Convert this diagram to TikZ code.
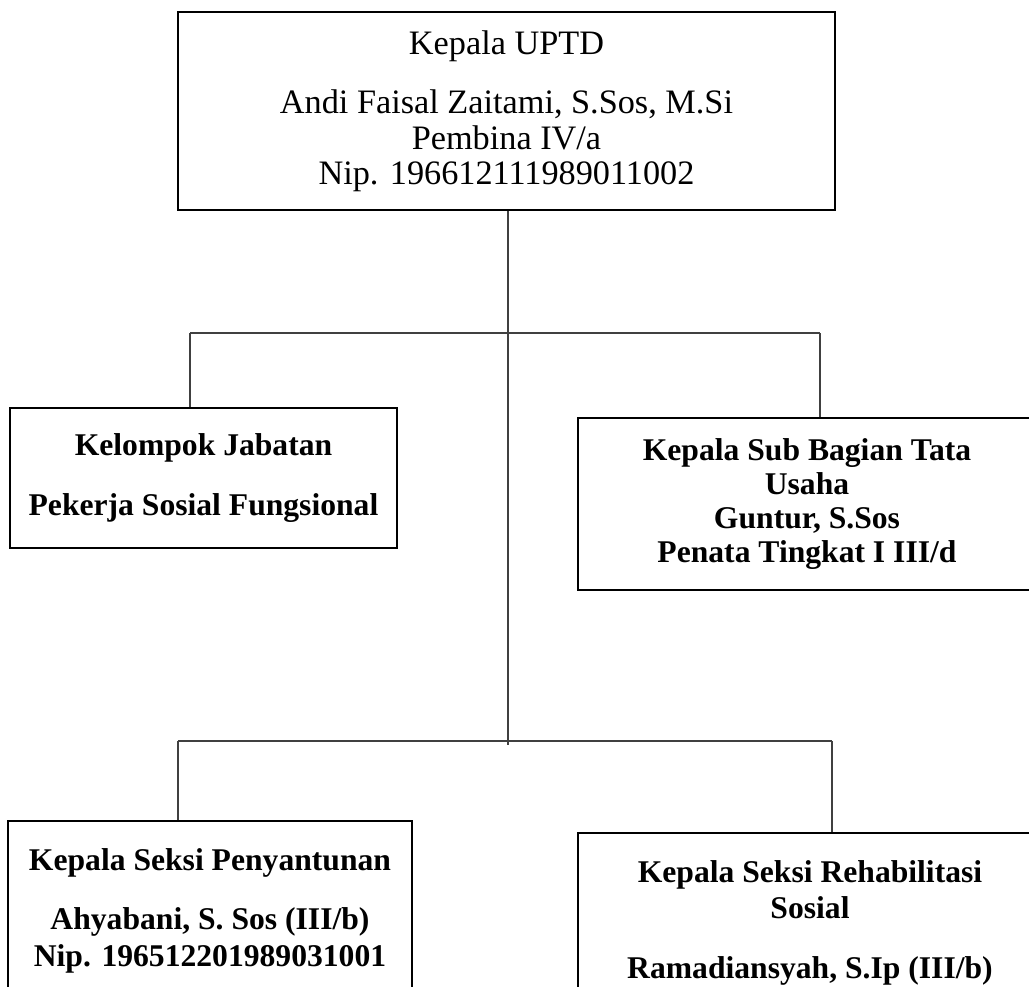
\documentclass[tikz,border=0pt]{standalone}
\usepackage{fontspec}
\setmainfont{Liberation Serif}
\usetikzlibrary{positioning}
\tikzstyle{jabatan}=[draw,line width=0.9pt,align=center,inner sep=0pt,font=\bfseries\fontsize{18}{21}\selectfont]
\tikzstyle{kepala box}=[jabatan,font=\fontsize{19.5}{20}\selectfont]
\tikzstyle{garis}=[draw,line width=0.7pt,black!75]

\begin{document}
\begin{tikzpicture}[x=0.02cm,y=-0.02cm]
    \useasboundingbox (0,0) rectangle (1029,987);
    % First we draw the boxes
    \node[kepala box,minimum width=13.14cm,minimum height=3.96cm] (kepala) at (506.5,111)
        {Kepala UPTD\\[14pt]Andi Faisal Zaitami, S.Sos, M.Si\\Pembina IV/a\\Nip. 196612111989011002};
    \node[jabatan,minimum width=7.74cm,minimum height=2.8cm] (kjf) at (203.5,478)
        {Kelompok Jabatan\\[13pt]Pekerja Sosial Fungsional};
    \node[jabatan,minimum width=9.16cm,minimum height=3.44cm,font=\bfseries\fontsize{18}{19.5}\selectfont] (kasubag) at (807,504)
        {Kepala Sub Bagian Tata\\Usaha\\Guntur, S.Sos\\Penata Tingkat I III/d};
    \node[jabatan,minimum width=8.08cm,minimum height=3.6cm,anchor=north] (ksp) at (210,820)
        {Kepala Seksi Penyantunan\\[13pt]Ahyabani, S. Sos (III/b)\\Nip. 196512201989031001};
    \node[jabatan,minimum width=9.28cm,minimum height=3.6cm,anchor=north] (ksr) at (810,832)
        {Kepala Seksi Rehabilitasi\\Sosial\\[13pt]Ramadiansyah, S.Ip (III/b)};

    % Branch points of the lines
    \coordinate (ujung) at (508,745);
    \coordinate (cab1kiri) at (190,333);
    \coordinate (cab1kanan) at (820,333);
    \coordinate (cab2kiri) at (178,741);
    \coordinate (cab2kanan) at (832,741);

    % Connect the boxes with lines
    \path[garis] (kepala.south -| ujung) -- (ujung);
    \path[garis] (cab1kiri) -- (cab1kanan);
    \path[garis] (cab2kiri) -- (cab2kanan);
    \foreach \source/\dest in {cab1kiri/kjf, cab1kanan/kasubag, cab2kiri/ksp, cab2kanan/ksr}
        \path[garis] (\source) -- (\source |- \dest.north);
\end{tikzpicture}
\end{document}
